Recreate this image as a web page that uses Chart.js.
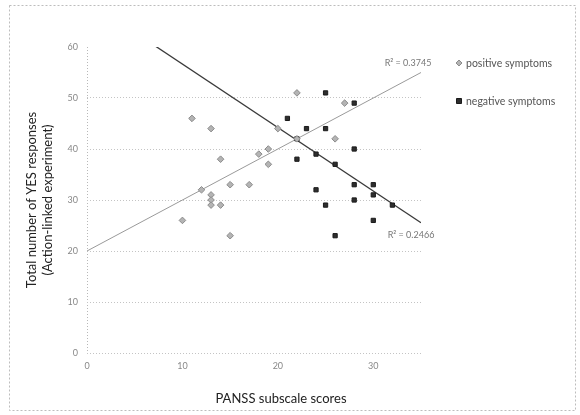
<!DOCTYPE html>
<html>
<head>
<meta charset="utf-8">
<script src="https://cdn.jsdelivr.net/npm/chart.js@4/dist/chart.umd.min.js"></script>
<style>
body { margin: 0; background: #fff; }
#wrap { width: 580px; height: 415px; }
</style>
</head>
<body>
<div id="wrap"><canvas id="mycanvas" width="580" height="415"></canvas></div>
<script>
// PANSS score vs. YES responses
var positiveX = [22, 11, 13, 20, 26, 22, 19, 18, 14, 19, 15, 17, 12, 13, 13, 13, 14, 10, 15, 27];
var positiveY = [51, 46, 44, 44, 42, 42, 40, 39, 38, 37, 33, 33, 32, 31, 30, 29, 29, 26, 23, 49];
var negativeX = [25, 21, 23, 25, 22, 22, 24, 26, 24, 28, 28, 28, 30, 30, 25, 28, 32, 30, 26];
var negativeY = [51, 46, 44, 44, 42, 38, 39, 37, 32, 49, 40, 33, 33, 31, 29, 30, 29, 26, 23];

// linear trendlines (slope, intercept) and their R² labels
var positiveTrend = [1.0, 20];
var negativeTrend = [-1.245, 69.1];
var r2Labels = ['R\u00B2 = 0.3745', 'R\u00B2 = 0.2466'];
var seriesNames = ['positive symptoms', 'negative symptoms'];
var xRange = [0, 35];
var yRange = [0, 60];
var xTicks = [0, 10, 20, 30];

function toPoints(xs, ys) {
    var pts = [];
    for (var i in xs) {
        pts.push({x: xs[i], y: ys[i]});
    }
    return pts;
}
function trendPoints(t) {
    return [
        {x: xRange[0], y: t[1] + t[0] * xRange[0]},
        {x: xRange[1], y: t[1] + t[0] * xRange[1]}
    ];
}

var FONT = 'Lato, "Open Sans", sans-serif';

var extras = {
    id: 'extras',
    beforeDraw: function(chart) {
        var ctx = chart.ctx;
        ctx.save();
        ctx.fillStyle = '#fff';
        ctx.fillRect(0, 0, chart.width, chart.height);
        ctx.strokeStyle = '#bdbdbd';
        ctx.lineWidth = 1;
        ctx.setLineDash([2, 2]);
        ctx.strokeRect(9.5, 5.5, 566, 405);
        ctx.restore();
    },
    afterDraw: function(chart) {
        var ctx = chart.ctx;
        var xs = chart.scales.x, ys = chart.scales.y;
        ctx.save();
        // x axis title
        ctx.fillStyle = '#222';
        ctx.font = '13px ' + FONT;
        ctx.textAlign = 'center';
        ctx.textBaseline = 'middle';
        ctx.fillText('PANSS subscale scores', 281, 399);

        // R² labels near the line ends
        ctx.fillStyle = '#777';
        ctx.font = '9px ' + FONT;
        ctx.fillText(r2Labels[0], xs.getPixelForValue(xRange[1]) - 13, ys.getPixelForValue(positiveTrend[1] + positiveTrend[0] * xRange[1]) - 9);
        ctx.fillText(r2Labels[1], xs.getPixelForValue(xRange[1]) - 10, ys.getPixelForValue(negativeTrend[1] + negativeTrend[0] * xRange[1]) + 12);

        // legend
        var ds = chart.data.datasets;
        var ly = [63, 101];
        ctx.textAlign = 'left';
        ctx.font = '10.5px ' + FONT;
        for (var i = 0; i < 2; i++) {
            ctx.fillStyle = ds[i].backgroundColor;
            ctx.strokeStyle = ds[i].borderColor;
            ctx.lineWidth = 1;
            ctx.beginPath();
            if (i === 0) {
                ctx.moveTo(459, ly[i] - 3); ctx.lineTo(462, ly[i]);
                ctx.lineTo(459, ly[i] + 3); ctx.lineTo(456, ly[i]);
                ctx.closePath();
            } else {
                ctx.rect(456.5, ly[i] - 2.5, 5, 5);
            }
            ctx.fill();
            ctx.stroke();
            ctx.fillStyle = '#555';
            ctx.fillText(seriesNames[i], 466, ly[i] + 0.5);
        }
        ctx.restore();
    }
};

var ctx = document.getElementById('mycanvas');
var myChart = new Chart(ctx, {
    type: 'scatter',
    data: {
        datasets: [{
            label: seriesNames[0],
            data: toPoints(positiveX, positiveY),
            pointStyle: 'rectRot',
            pointRadius: 3.3,
            backgroundColor: '#b4b4b4',
            borderColor: '#8c8c8c',
            borderWidth: 1
        }, {
            label: seriesNames[1],
            data: toPoints(negativeX, negativeY),
            pointStyle: 'rect',
            pointRadius: 3,
            backgroundColor: '#2e2e2e',
            borderColor: '#1a1a1a',
            borderWidth: 1
        }, {
            type: 'line',
            data: trendPoints(positiveTrend),
            borderColor: '#9a9a9a',
            borderWidth: 1,
            pointRadius: 0,
            fill: false
        }, {
            type: 'line',
            data: trendPoints(negativeTrend),
            borderColor: '#3a3a3a',
            borderWidth: 1.3,
            pointRadius: 0,
            fill: false
        }]
    },
    options: {
        responsive: false,
        animation: false,
        devicePixelRatio: 1,
        layout: { padding: { left: 0, right: 159, top: 47, bottom: 32 } },
        plugins: {
            legend: { display: false },
            tooltip: { enabled: false }
        },
        scales: {
            x: {
                type: 'linear',
                min: xRange[0],
                max: xRange[1],
                afterFit: function(scale) { scale.height = 30; },
                afterBuildTicks: function(scale) {
                    scale.ticks = xTicks.map(function(v) { return {value: v}; });
                },
                ticks: {
                    padding: 8,
                    color: '#888',
                    font: { family: FONT, size: 9 }
                },
                grid: {
                    drawTicks: false,
                    color: function(c) { return c.tick && c.tick.value === 0 ? '#b8b8b8' : 'rgba(0,0,0,0)'; }
                },
                border: { display: false, dash: [1, 2] }
            },
            y: {
                min: yRange[0],
                max: yRange[1],
                afterFit: function(scale) { scale.width = 87; },
                ticks: {
                    stepSize: 10,
                    padding: 9,
                    color: '#888',
                    font: { family: FONT, size: 9 }
                },
                grid: {
                    drawTicks: false,
                    color: function(c) { return c.tick && c.tick.value === 60 ? 'rgba(0,0,0,0)' : '#c4c4c4'; }
                },
                border: { display: false, dash: [1, 2] },
                title: {
                    display: true,
                    text: ['Total number of YES responses', '(Action-linked experiment)'],
                    color: '#222',
                    font: { family: FONT, size: 13 },
                    padding: { top: 24, bottom: 0 }
                }
            }
        }
    },
    plugins: [extras]
});
</script>
</body>
</html>
